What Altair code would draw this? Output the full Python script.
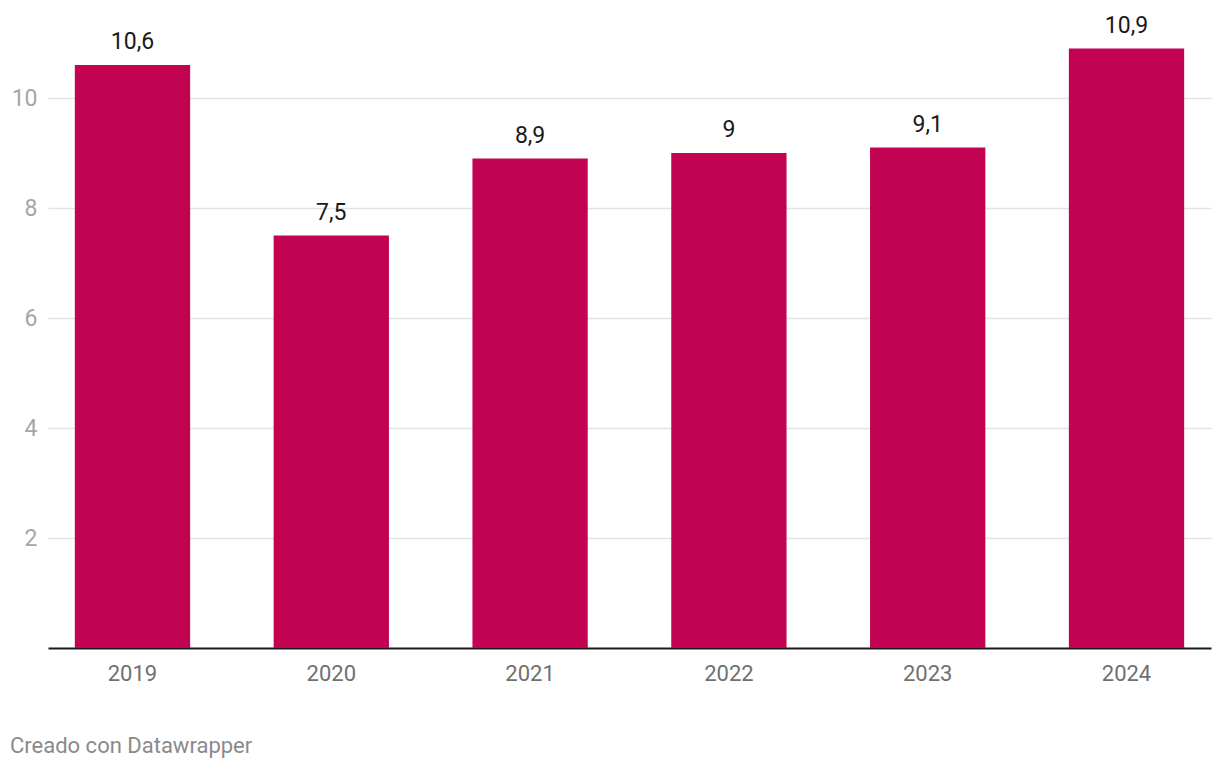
import altair as alt
import pandas as pd

years = ["2019", "2020", "2021", "2022", "2023", "2024"]
values = [10.6, 7.5, 8.9, 9.0, 9.1, 10.9]
labels = ["10,6", "7,5", "8,9", "9", "9,1", "10,9"]
y_ticks = [2, 4, 6, 8, 10]
footer_text = ["Creado con Datawrapper"]

df = pd.DataFrame({"year": years, "value": values, "label": labels})
foot = pd.DataFrame({"t": footer_text})

W, H = 1163, 605
FONT = "Roboto"

x = alt.X(
    "year:N",
    sort=years,
    scale=alt.Scale(paddingInner=0.42, paddingOuter=0.135),
    axis=alt.Axis(
        title=None, labelAngle=0, labelFontSize=22, labelColor="#707070",
        labelFont=FONT, ticks=False, domain=True, domainColor="#1a1a1a",
        domainWidth=2, labelPadding=15, grid=False,
    ),
)
y = alt.Y(
    "value:Q",
    scale=alt.Scale(domain=[0, 11], nice=False),
    axis=alt.Axis(
        title=None, values=y_ticks, format="d", labelFontSize=23,
        labelColor="#a6a6a6", labelFont=FONT, ticks=False, domain=False,
        labelPadding=11, grid=True, gridColor="#e3e3e3", gridWidth=1.5,
    ),
)

bars = alt.Chart(df).mark_bar(color="#c20352").encode(x=x, y=y)
text = alt.Chart(df).mark_text(
    dy=-16, baseline="alphabetic", fontSize=23, font=FONT, color="#1a1a1a"
).encode(x=alt.X("year:N", sort=years), y="value:Q", text="label:N")
footer = alt.Chart(foot).mark_text(
    align="left", baseline="alphabetic", fontSize=22, font=FONT, color="#8a8a8a"
).encode(x=alt.value(-38), y=alt.value(H + 105), text="t:N")

chart = alt.layer(bars, text, footer).properties(
    width=W, height=H,
    autosize=alt.AutoSizeParams(type="none"),
    padding={"left": 40, "top": 35, "right": 1, "bottom": 112},
).configure_view(stroke=None)

chart.save("out.html", embed_options={"renderer": "svg", "actions": False})
